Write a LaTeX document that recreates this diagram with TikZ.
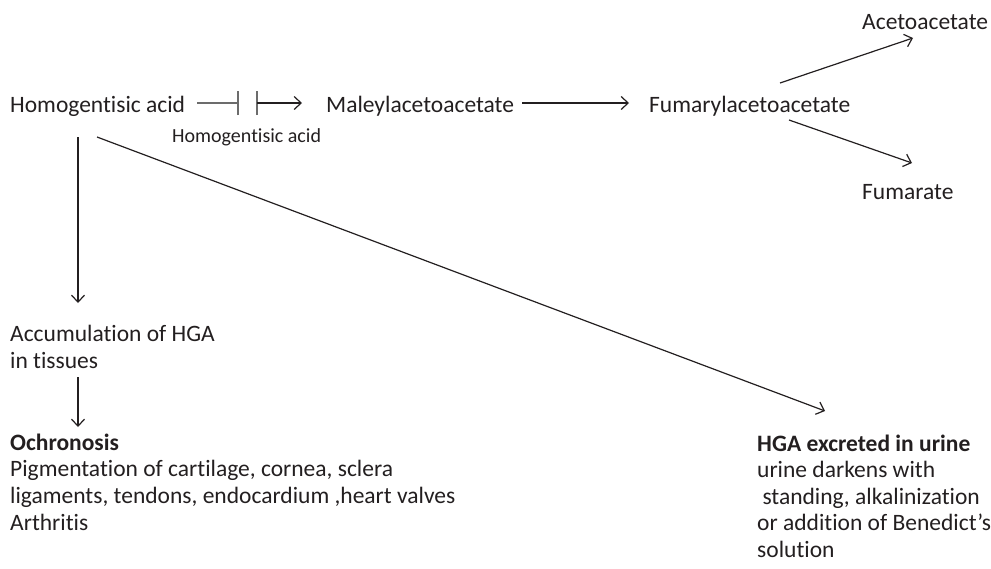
\documentclass[tikz,border=0pt]{standalone}
\usepackage{fontspec}
\setmainfont{Carlito}[Ligatures={NoCommon}]
\usetikzlibrary{arrows.meta}
\definecolor{txt}{HTML}{231F20}
\tikzset{
  lbl/.style={anchor=base west, inner sep=0pt, text=txt, font=\fontsize{23.5}{27}\selectfont},
  small/.style={anchor=base west, inner sep=0pt, text=txt, font=\fontsize{20}{24}\selectfont},
  arr/.style={draw=txt, line width=1.2pt, -{Straight Barb[length=7pt,width=13pt,line width=1.2pt]}},
  inh/.style={draw=gray!85!black, line width=1.2pt},
  bar/.style={draw=gray!85!black, line width=2.6pt}
}
\begin{document}
\begin{tikzpicture}[x=1pt,y=-1pt]
\useasboundingbox (0,0) rectangle (991,568);
% main row
\node[lbl] (hga) at (10,112) {Homogentisic acid};
\node[lbl] (mal) at (326,112) {Maleylacetoacetate};
\node[lbl] (fum) at (649,112) {Fumarylacetoacetate};
\node[lbl] (aceto) at (862,29) {Acetoacetate};
\node[lbl] (fumar) at (862,199) {Fumarate};
\node[small] (enz) at (172,142) {Homogentisic acid};
% inhibited step
\coordinate (s0) at (197,103);
\coordinate (b1) at (238,103);
\coordinate (b2) at (257,103);
\coordinate (e1) at (302,103);
\draw[inh] (s0) -- (b1);
\draw[bar] ([yshift=-12pt]b1) -- ([yshift=12pt]b1);
\draw[bar] ([yshift=-12pt]b2) -- ([yshift=12pt]b2);
\draw[arr] (b2) -- (e1);
% other arrows
\coordinate (m1) at (522,103);
\coordinate (m2) at (629,103);
\draw[arr] (m1) -- (m2);
\coordinate (f1) at (780,83);
\coordinate (f2) at (913,38);
\draw[arr] (f1) -- (f2);
\coordinate (f3) at (789,120);
\coordinate (f4) at (912,163);
\draw[arr] (f3) -- (f4);
% accumulation
\node[lbl] (acc) at (10,341) {Accumulation of HGA};
\node[lbl] (tis) at (10,368) {in tissues};
\coordinate (v1) at (78,137);
\coordinate (v2) at (78,303);
\draw[arr] (v1) -- (v2);
\coordinate (v3) at (78,377);
\coordinate (v4) at (78,427);
\draw[arr] (v3) -- (v4);
% ochronosis
\node[lbl, font=\fontsize{23.5}{27}\selectfont\bfseries] (och) at (10,450) {Ochronosis};
\node[lbl] (p1) at (10,476.5) {Pigmentation of cartilage, cornea, sclera};
\node[lbl] (p2) at (10,503) {ligaments, tendons, endocardium ,heart valves};
\node[lbl] (p3) at (10,530) {Arthritis};
% urine
\coordinate (d1) at (97,137);
\coordinate (d2) at (825,411);
\draw[arr] (d1) -- (d2);
\node[lbl, font=\fontsize{23.5}{27}\selectfont\bfseries] (uri) at (757,451) {HGA excreted in urine};
\node[lbl] (u1) at (757,477) {urine darkens with};
\node[lbl] (u2) at (757,504) {\ standing, alkalinization};
\node[lbl] (u3) at (757,530.5) {or addition of Benedict’s};
\node[lbl] (u4) at (757,557) {solution};
\end{tikzpicture}
\end{document}
